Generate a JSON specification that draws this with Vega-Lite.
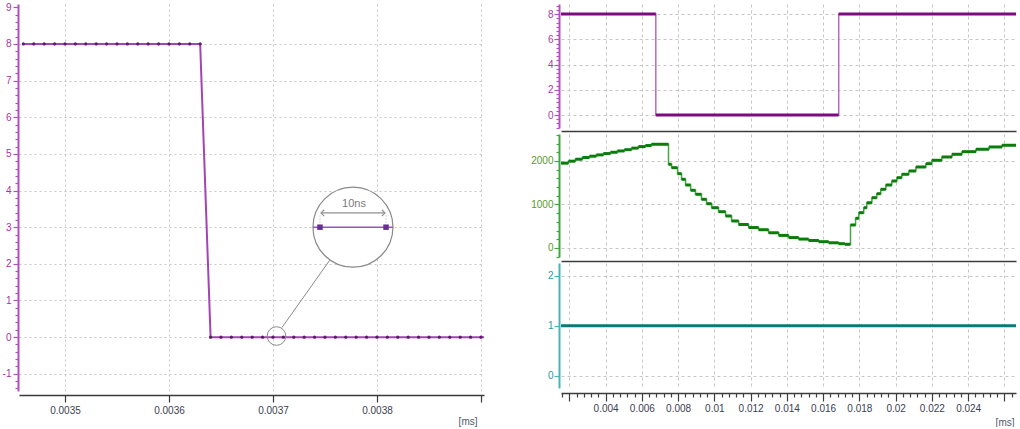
{
  "$schema": "https://vega.github.io/schema/vega-lite/v6.json",
  "background": "white",
  "padding": {"left": 2, "top": 0, "right": 0, "bottom": 0},
  "config": {
    "view": {"stroke": null},
    "font": "Liberation Sans",
    "axis": {"labelFont": "Liberation Sans", "labelFontSize": 10, "titleFont": "Liberation Sans", "titleFontSize": 10, "titleFontWeight": "normal", "gridColor": "#c6c6c6", "labelFlush": false, "labelOverlap": false}
  },
  "datasets": {
    "leftSignal": [
      {"t": 0.00346, "v": 8}, {"t": 0.00347, "v": 8}, {"t": 0.00348, "v": 8}, {"t": 0.00349, "v": 8}, {"t": 0.0035, "v": 8}, {"t": 0.00351, "v": 8}, {"t": 0.00352, "v": 8}, {"t": 0.00353, "v": 8}, {"t": 0.00354, "v": 8}, {"t": 0.00355, "v": 8}, {"t": 0.00356, "v": 8}, {"t": 0.00357, "v": 8}, {"t": 0.00358, "v": 8}, {"t": 0.00359, "v": 8}, {"t": 0.0036, "v": 8}, {"t": 0.00361, "v": 8}, {"t": 0.00362, "v": 8}, {"t": 0.00363, "v": 8},
      {"t": 0.00364, "v": 0}, {"t": 0.00365, "v": 0}, {"t": 0.00366, "v": 0}, {"t": 0.00367, "v": 0}, {"t": 0.00368, "v": 0}, {"t": 0.00369, "v": 0}, {"t": 0.0037, "v": 0}, {"t": 0.00371, "v": 0}, {"t": 0.00372, "v": 0}, {"t": 0.00373, "v": 0}, {"t": 0.00374, "v": 0}, {"t": 0.00375, "v": 0}, {"t": 0.00376, "v": 0}, {"t": 0.00377, "v": 0}, {"t": 0.00378, "v": 0}, {"t": 0.00379, "v": 0}, {"t": 0.0038, "v": 0}, {"t": 0.00381, "v": 0}, {"t": 0.00382, "v": 0}, {"t": 0.00383, "v": 0}, {"t": 0.00384, "v": 0}, {"t": 0.00385, "v": 0}, {"t": 0.00386, "v": 0}, {"t": 0.00387, "v": 0}, {"t": 0.00388, "v": 0}, {"t": 0.00389, "v": 0}, {"t": 0.0039, "v": 0}, {"t": 0.00391, "v": 0}
    ],
    "lensBig": [{"t": 0.0037769, "v": 3}],
    "lensSmall": [{"t": 0.0037034, "v": 0.03}],
    "lensLink": [{"t": 0.0037086, "v": 0.26, "t2": 0.0037546, "v2": 2.1}],
    "lensTrace": [{"t": 0.0037385, "v": 3, "t2": 0.0038154}],
    "lensMarks": [{"t": 0.0037452, "v": 3}, {"t": 0.0038087, "v": 3}],
    "lensArrow": [{"t": 0.0037462, "v": 3.39, "t2": 0.0038077}],
    "lensArrowHeads": [{"t": 0.0037462, "v": 3.39, "dir": "left"}, {"t": 0.0038077, "v": 3.39, "dir": "right"}],
    "lensGuides": [{"t": 0.0037452, "v": 3.32, "v2": 3.12}, {"t": 0.0038087, "v": 3.32, "v2": 3.12}],
    "lensText": [{"t": 0.0037779, "v": 3.64, "label": "10ns"}],
    "rightPurple": [{"t": 0.00154, "v": 8}, {"t": 0.00677, "v": 0}, {"t": 0.01686, "v": 8}, {"t": 0.02664, "v": 8}],
    "green": [
      {"t": 0.00154, "v": 1950}, {"t": 0.00195, "v": 1995}, {"t": 0.00233, "v": 2040}, {"t": 0.00272, "v": 2080}, {"t": 0.00311, "v": 2110}, {"t": 0.00349, "v": 2140}, {"t": 0.00388, "v": 2170}, {"t": 0.00427, "v": 2200}, {"t": 0.00465, "v": 2230}, {"t": 0.00504, "v": 2260}, {"t": 0.00543, "v": 2295}, {"t": 0.00581, "v": 2330}, {"t": 0.0062, "v": 2355}, {"t": 0.00653, "v": 2384},
      {"t": 0.00747, "v": 1924}, {"t": 0.00764, "v": 1846}, {"t": 0.00797, "v": 1708}, {"t": 0.00819, "v": 1579}, {"t": 0.00841, "v": 1448}, {"t": 0.00869, "v": 1326}, {"t": 0.00896, "v": 1234}, {"t": 0.00929, "v": 1119}, {"t": 0.00957, "v": 1018}, {"t": 0.00985, "v": 926}, {"t": 0.01023, "v": 834}, {"t": 0.01062, "v": 736}, {"t": 0.01095, "v": 621}, {"t": 0.01134, "v": 540}, {"t": 0.01189, "v": 470}, {"t": 0.01244, "v": 420}, {"t": 0.01299, "v": 350}, {"t": 0.01355, "v": 290}, {"t": 0.0141, "v": 240}, {"t": 0.01465, "v": 205}, {"t": 0.0152, "v": 172}, {"t": 0.01576, "v": 145}, {"t": 0.01631, "v": 120}, {"t": 0.01686, "v": 99}, {"t": 0.0172, "v": 85},
      {"t": 0.01751, "v": 529}, {"t": 0.01779, "v": 683}, {"t": 0.01797, "v": 812}, {"t": 0.01824, "v": 926}, {"t": 0.01841, "v": 1041}, {"t": 0.01869, "v": 1156}, {"t": 0.01896, "v": 1248}, {"t": 0.01918, "v": 1349}, {"t": 0.01946, "v": 1448}, {"t": 0.01979, "v": 1540}, {"t": 0.02007, "v": 1616}, {"t": 0.02034, "v": 1694}, {"t": 0.02073, "v": 1770}, {"t": 0.02112, "v": 1862}, {"t": 0.02167, "v": 1938}, {"t": 0.022, "v": 2016}, {"t": 0.02255, "v": 2092}, {"t": 0.02311, "v": 2154}, {"t": 0.02366, "v": 2214}, {"t": 0.02443, "v": 2269}, {"t": 0.02515, "v": 2322}, {"t": 0.02587, "v": 2361}, {"t": 0.02664, "v": 2361}
    ],
    "teal": [{"t": 0.00154, "v": 1}, {"t": 0.02664, "v": 1}]
  },
  "hconcat": [
    {
      "width": 465,
      "height": 387,
      "encoding": {
        "x": {
          "field": "t", "type": "quantitative",
          "scale": {"domain": [0.0034558, 0.0039029], "nice": false, "zero": false},
          "axis": {
            "values": [0.0035, 0.0036, 0.0037, 0.0038, 0.0039],
            "format": "~g",
            "labelExpr": "datum.value > 0.00385 ? '' : datum.label",
            "tickSize": 7, "tickColor": "#3a3a3a", "tickWidth": 1.2,
            "domainColor": "#3a3a3a", "domainWidth": 1.5,
            "labelColor": "#3a4050", "labelPadding": 3, "offset": 4,
            "grid": true, "gridDash": [2, 3], "gridColor": "#c6c6c6",
            "title": "[ms]", "titleAlign": "right", "titleX": 458, "titleY": 26, "titleBaseline": "middle", "titleColor": "#505868"
          }
        },
        "y": {
          "field": "v", "type": "quantitative",
          "scale": {"domain": [-1.47, 9.09], "nice": false, "zero": false},
          "axis": {
            "values": [-1.4, -1.2, -1, -0.8, -0.6, -0.4, -0.2, 0, 0.2, 0.4, 0.6, 0.8, 1, 1.2, 1.4, 1.6, 1.8, 2, 2.2, 2.4, 2.6, 2.8, 3, 3.2, 3.4, 3.6, 3.8, 4, 4.2, 4.4, 4.6, 4.8, 5, 5.2, 5.4, 5.6, 5.8, 6, 6.2, 6.4, 6.6, 6.8, 7, 7.2, 7.4, 7.6, 7.8, 8, 8.2, 8.4, 8.6, 8.8, 9],
            "labelExpr": "datum.value % 1 === 0 ? '' + datum.value : ''",
            "tickSize": {"condition": {"test": "datum.value % 1 === 0", "value": 5}, "value": 3},
            "gridOpacity": {"condition": {"test": "datum.value % 1 === 0 && datum.value < 9", "value": 1}, "value": 0},
            "grid": true, "gridDash": [2, 3], "gridColor": "#c6c6c6",
            "domainColor": "#b050c0", "domainWidth": 2, "tickColor": "#b050c0", "tickWidth": 1.2,
            "labelColor": "#a8349e", "labelPadding": 2, "offset": 1, "title": null
          }
        }
      },
      "layer": [
        {"data": {"name": "leftSignal"}, "mark": {"type": "line", "color": "#a444b4", "strokeWidth": 2, "clip": true}},
        {"data": {"name": "leftSignal"}, "mark": {"type": "point", "filled": true, "size": 10, "color": "#5e1870", "opacity": 1, "clip": true}},
        {"data": {"name": "lensLink"}, "mark": {"type": "rule", "color": "#8a8a8a", "strokeWidth": 1}, "encoding": {"x2": {"field": "t2"}, "y2": {"field": "v2"}}},
        {"data": {"name": "lensSmall"}, "mark": {"type": "point", "shape": "circle", "size": 346, "filled": false, "color": "#8a8a8a", "strokeWidth": 1, "opacity": 1}},
        {"data": {"name": "lensBig"}, "mark": {"type": "point", "shape": "circle", "size": 6400, "filled": true, "fill": "white", "fillOpacity": 1, "stroke": "#8a8a8a", "strokeWidth": 1.2, "opacity": 1}},
        {"data": {"name": "lensTrace"}, "mark": {"type": "rule", "color": "#9a52c0", "strokeWidth": 1.5}, "encoding": {"x2": {"field": "t2"}}},
        {"data": {"name": "lensGuides"}, "mark": {"type": "rule", "color": "#b0b0b0", "strokeDash": [1, 2]}, "encoding": {"y2": {"field": "v2"}}},
        {"data": {"name": "lensArrow"}, "mark": {"type": "rule", "color": "#909090", "strokeWidth": 1.2}, "encoding": {"x2": {"field": "t2"}}},
        {"data": {"name": "lensArrowHeads"}, "mark": {"type": "point", "filled": false, "size": 40, "color": "#909090", "strokeWidth": 1.2, "opacity": 1}, "encoding": {"shape": {"field": "dir", "type": "nominal", "scale": {"domain": ["left", "right"], "range": ["M1,-1L0,0L1,1", "M-1,-1L0,0L-1,1"]}, "legend": null}}},
        {"data": {"name": "lensMarks"}, "mark": {"type": "square", "size": 30, "color": "#6a2c9a", "opacity": 1}},
        {"data": {"name": "lensText"}, "mark": {"type": "text", "font": "Liberation Sans", "fontSize": 11, "color": "#7a7a7a"}, "encoding": {"text": {"field": "label"}}}
      ]
    },
    {
      "vconcat": [
        {
          "width": 455,
          "height": 124,
          "data": {"name": "rightPurple"},
          "encoding": {
            "x": {
              "field": "t", "type": "quantitative",
              "scale": {"domain": [0.00154, 0.02664], "nice": false, "zero": false},
              "axis": {"values": [0.002, 0.004, 0.006, 0.008, 0.01, 0.012, 0.014, 0.016, 0.018, 0.02, 0.022, 0.024, 0.026], "labels": false, "ticks": false, "domain": true, "domainColor": "#3c3c3c", "domainWidth": 1.5, "offset": 3, "grid": true, "gridDash": [3, 3], "title": null}
            },
            "y": {
              "field": "v", "type": "quantitative",
              "scale": {"domain": [-1.03, 8.8], "nice": false, "zero": false},
              "axis": {
                "values": [-1, -0.6667, -0.3333, 0, 0.3333, 0.6667, 1, 1.3333, 1.6667, 2, 2.3333, 2.6667, 3, 3.3333, 3.6667, 4, 4.3333, 4.6667, 5, 5.3333, 5.6667, 6, 6.3333, 6.6667, 7, 7.3333, 7.6667, 8, 8.3333, 8.6667],
                "labelExpr": "datum.value % 2 === 0 ? '' + datum.value : ''",
                "tickSize": {"condition": {"test": "datum.value % 2 === 0", "value": 5}, "value": 3},
                "gridOpacity": {"condition": {"test": "datum.value % 2 === 0", "value": 1}, "value": 0},
                "grid": true, "gridDash": [3, 3],
                "domainColor": "#b450c0", "domainWidth": 2, "tickColor": "#b450c0", "tickWidth": 1.2,
                "labelColor": "#a8389e", "labelPadding": 1, "offset": 2, "title": null
              }
            }
          },
          "layer": [
            {"mark": {"type": "line", "interpolate": "step-after", "color": "#b46cc0", "strokeWidth": 1.5}},
            {
              "transform": [{"window": [{"op": "lead", "field": "t", "as": "t2"}], "sort": [{"field": "t"}]}, {"filter": "datum.t2 != null"}],
              "mark": {"type": "rule", "color": "#7d0a80", "strokeWidth": 3},
              "encoding": {"x2": {"field": "t2"}}
            }
          ]
        },
        {
          "width": 455,
          "height": 123,
          "data": {"name": "green"},
          "encoding": {
            "x": {
              "field": "t", "type": "quantitative",
              "scale": {"domain": [0.00154, 0.02664], "nice": false, "zero": false},
              "axis": {"values": [0.002, 0.004, 0.006, 0.008, 0.01, 0.012, 0.014, 0.016, 0.018, 0.02, 0.022, 0.024, 0.026], "labels": false, "ticks": false, "domain": true, "domainColor": "#3c3c3c", "domainWidth": 1.5, "offset": 4, "grid": true, "gridDash": [3, 3], "title": null}
            },
            "y": {
              "field": "v", "type": "quantitative",
              "scale": {"domain": [-207, 2620], "nice": false, "zero": false},
              "axis": {
                "values": [-200, 0, 200, 400, 600, 800, 1000, 1200, 1400, 1600, 1800, 2000, 2200, 2400, 2600],
                "labelExpr": "datum.value % 1000 === 0 ? '' + datum.value : ''",
                "tickSize": {"condition": {"test": "datum.value % 1000 === 0", "value": 5}, "value": 3},
                "gridOpacity": {"condition": {"test": "datum.value % 1000 === 0", "value": 1}, "value": 0},
                "grid": true, "gridDash": [3, 3],
                "domainColor": "#3ea83e", "domainWidth": 2, "tickColor": "#3ea83e", "tickWidth": 1.2,
                "labelColor": "#5a9a28", "labelPadding": 1, "offset": 2, "title": null
              }
            }
          },
          "layer": [
            {"mark": {"type": "line", "interpolate": "step-after", "color": "#45a845", "strokeWidth": 1.5}},
            {
              "transform": [{"window": [{"op": "lead", "field": "t", "as": "t2"}], "sort": [{"field": "t"}]}, {"filter": "datum.t2 != null"}],
              "mark": {"type": "rule", "color": "#0c7c0c", "strokeWidth": 3},
              "encoding": {"x2": {"field": "t2"}}
            }
          ]
        },
        {
          "width": 455,
          "height": 125,
          "data": {"name": "teal"},
          "encoding": {
            "x": {
              "field": "t", "type": "quantitative",
              "scale": {"domain": [0.00154, 0.02664], "nice": false, "zero": false},
              "axis": {
                "values": [0.0016, 0.002, 0.0024, 0.0028, 0.0032, 0.0036, 0.004, 0.0044, 0.0048, 0.0052, 0.0056, 0.006, 0.0064, 0.0068, 0.0072, 0.0076, 0.008, 0.0084, 0.0088, 0.0092, 0.0096, 0.01, 0.0104, 0.0108, 0.0112, 0.0116, 0.012, 0.0124, 0.0128, 0.0132, 0.0136, 0.014, 0.0144, 0.0148, 0.0152, 0.0156, 0.016, 0.0164, 0.0168, 0.0172, 0.0176, 0.018, 0.0184, 0.0188, 0.0192, 0.0196, 0.02, 0.0204, 0.0208, 0.0212, 0.0216, 0.022, 0.0224, 0.0228, 0.0232, 0.0236, 0.024, 0.0244, 0.0248, 0.0252, 0.0256, 0.026, 0.0264],
                "format": "~g",
                "labelExpr": "(abs(datum.value * 500 - round(datum.value * 500)) < 0.01 && datum.value > 0.003 && datum.value < 0.025) ? datum.label : ''",
                "tickSize": {"condition": {"test": "abs(datum.value * 500 - round(datum.value * 500)) < 0.01", "value": 8}, "value": 4},
                "gridOpacity": {"condition": {"test": "abs(datum.value * 500 - round(datum.value * 500)) < 0.01", "value": 1}, "value": 0},
                "grid": true, "gridDash": [3, 3],
                "domainColor": "#3c3c3c", "domainWidth": 1.5, "tickColor": "#3c3c3c", "tickWidth": 1.2,
                "labelColor": "#3a4050", "labelPadding": 2, "offset": 5,
                "title": "[ms]", "titleAlign": "right", "titleX": 453, "titleY": 29, "titleBaseline": "middle", "titleColor": "#505868"
              }
            },
            "y": {
              "field": "v", "type": "quantitative",
              "scale": {"domain": [-0.24, 2.25], "nice": false, "zero": false},
              "axis": {
                "values": [0, 1, 2],
                "labelExpr": "'' + datum.value",
                "tickSize": 5,
                "grid": true, "gridDash": [3, 3],
                "domainColor": "#48b4b4", "domainWidth": 2, "tickColor": "#48b4b4", "tickWidth": 1.2,
                "labelColor": "#2a9a9a", "labelPadding": 1, "offset": 2, "title": null
              }
            }
          },
          "layer": [
            {"mark": {"type": "line", "color": "#0a7a78", "strokeWidth": 3}}
          ]
        }
      ],
      "spacing": 6,
      "bounds": "flush",
      "resolve": {"scale": {"x": "independent", "y": "independent"}}
    }
  ],
  "spacing": 77,
  "bounds": "flush",
  "resolve": {"scale": {"x": "independent", "y": "independent"}}
}
